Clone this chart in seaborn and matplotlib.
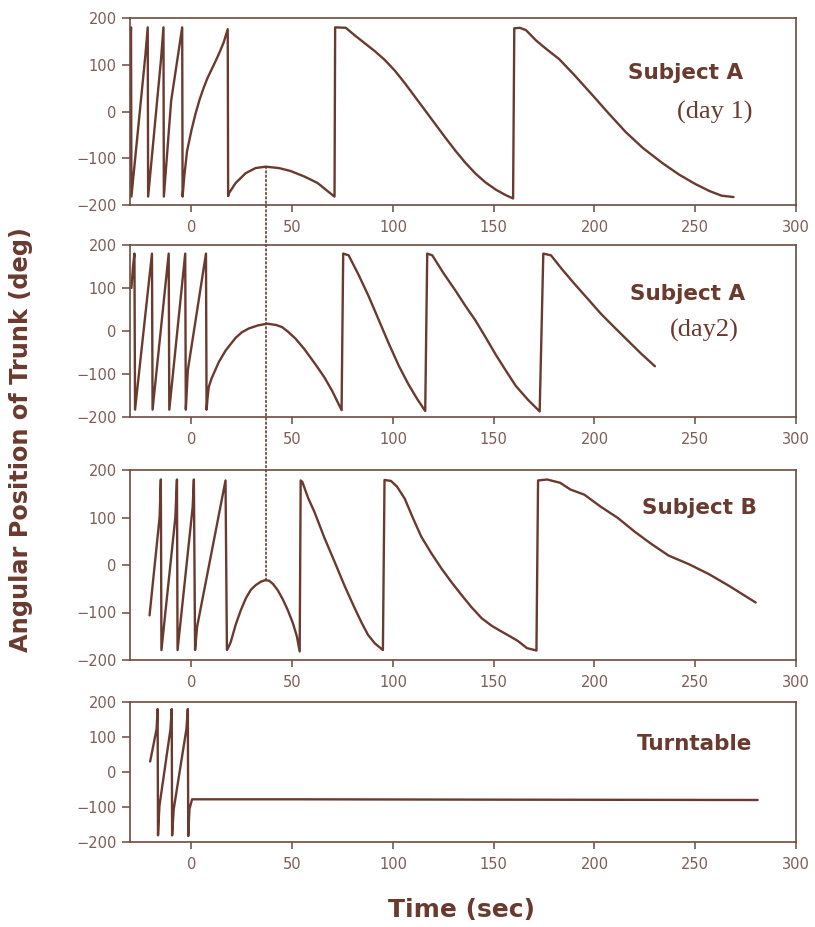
import numpy as np
import pandas as pd
import matplotlib
matplotlib.use("Agg")
import matplotlib.pyplot as plt
import seaborn as sns
from matplotlib.patches import ConnectionPatch

# ---------------- data ----------------
a1_time = [-30.5, -30.0, -29.8, -22.9, -21.7, -21.5, -15.1, -13.9, -13.7, -10.1, -4.6, -4.4,
           -3.6, -2.2, 0.0, 2.0, 4.0, 6.0, 8.0, 10.0, 12.0, 14.0, 16.0, 18.0,
           18.2, 18.6, 21.9, 26.9, 31.8, 36.8, 43.4, 49.0, 56.0, 62.6, 69.2, 71.0,
           71.3, 76.6, 81.0, 86.0, 91.0, 96.0, 101.0, 106.0, 111.0, 116.0, 121.0, 126.0,
           131.0, 136.0, 141.0, 146.0, 151.0, 156.0, 159.6,
           160.2, 163.0, 166.0, 171.0, 176.0, 182.5, 190.0, 199.0, 207.0, 215.5, 224.0,
           233.6, 242.0, 250.0, 257.0, 263.0, 269.0]
a1_angle = [125, 180, -182, 119, 180, -182, 112, 180, -182, 22, 180, -182,
            -140, -85, -40, -5, 25, 50, 72, 90, 108, 127, 148, 176,
            -181, -175, -153, -132, -121, -118, -121, -127, -139, -153, -176, -182,
            180, 179, 163, 146, 129, 110, 87, 60, 31, 2, -27, -56,
            -84, -110, -133, -152, -167, -179, -186,
            178, 179, 174, 152, 134, 112, 78, 35, -4, -44, -78,
            -110, -135, -155, -170, -180, -183]

a2_time = [-29.8, -29.0, -28.3, -28.0, -19.6, -19.3, -11.3, -11.0, -3.1, -2.8, -1.8, 7.2,
           7.5, 8.0, 8.6, 10.0, 13.6, 17.0, 21.9, 25.0, 28.5, 33.0, 37.6, 42.0, 45.0,
           48.0, 51.7, 56.0, 61.6, 66.0, 69.9, 72.5, 74.5,
           75.3, 78.0, 83.0, 88.0, 93.0, 97.8, 103.0, 107.8, 112.0, 116.0,
           117.0, 119.5, 125.0, 131.0, 136.0, 141.0, 146.0, 151.0, 156.0, 161.0, 167.0, 172.8,
           174.6, 178.4, 184.0, 190.0, 197.0, 203.4, 210.0, 216.7, 223.0, 230.0]
a2_angle = [100, 150, 180, -183, 180, -183, 180, -183, 180, -183, -91, 180,
            -183, -155, -130, -110, -72, -45, -16, -3, 6, 13, 17, 14, 9,
            -2, -18, -42, -78, -108, -140, -165, -184,
            180, 176, 130, 80, 25, -28, -82, -125, -158, -186,
            180, 176, 135, 94, 58, 24, -15, -55, -92, -128, -160, -187,
            180, 176, 143, 110, 73, 39, 8, -23, -52, -82]

b_time = [-20.8, -15.8, -15.2, -14.9, -8.0, -7.2, -6.9, 0.6, 1.2, 1.8, 2.8, 16.9,
          17.6, 18.5, 19.5, 22.0, 24.5, 27.0, 29.5, 32.0, 34.5, 36.5, 38.5, 40.5, 42.8,
          45.3, 47.8, 50.3, 52.3, 53.7,
          54.2, 55.0, 58.0, 61.0, 66.0, 71.0, 76.0, 81.0, 84.5, 87.6, 91.0, 95.0,
          95.8, 99.0, 102.0, 105.8, 110.0, 114.0, 119.0, 124.0, 129.0, 134.0, 139.0, 144.0,
          149.0, 153.0, 158.0, 162.0, 166.5, 171.2,
          172.0, 176.5, 183.0, 188.0, 195.0, 203.0, 211.6, 220.0, 228.0, 236.7, 246.7,
          256.7, 266.8, 280.0]
b_angle = [-106, 101, 180, -179, 100, 180, -179, 122, 180, -179, -130, 178,
           -179, -172, -162, -125, -95, -70, -52, -42, -35, -32, -33, -40, -53,
           -72, -95, -122, -150, -182,
           178, 175, 140, 112, 57, 7, -44, -91, -122, -147, -165, -179,
           179, 177, 165, 140, 98, 60, 25, -7, -36, -63, -89, -112,
           -128, -138, -150, -160, -175, -180,
           178, 180, 173, 159, 148, 123, 99, 70, 45, 20, 2,
           -19, -44, -79]

tt_time = [-20.5, -17.3, -16.8, -16.6, -15.9, -10.4, -9.8, -9.6, -8.8, -2.5, -1.8, -1.6,
           -1.0, 0.3, 50.0, 150.0, 281.0]
tt_angle = [30, 123, 180, -181, -97, 123, 180, -181, -106, 123, 180, -183,
            -106, -78, -78, -79, -80]

panel_names = ["Subject A", "Subject A", "Subject B", "Turntable"]
panel_notes = ["(day 1)", "(day2)", "", ""]
x_ticks = [0, 50, 100, 150, 200, 250, 300]
y_ticks = [-200, -100, 0, 100, 200]
peak_time = 37.0
x_label = "Time (sec)"
y_label = "Angular Position of Trunk (deg)"

# ---------------- style ----------------
sns.set_theme(style="ticks")
plt.rcParams["font.family"] = ["DejaVu Sans"]
LINE = "#6a3a2f"
SPINE = "#6e4a40"
TXT = "#7d5d55"

W, H = 815, 927
fig = plt.figure(figsize=(W / 100, H / 100), dpi=100)
fig.patch.set_facecolor("white")

# axes boxes in pixels: (top, bottom)
boxes = [(18, 205), (245, 417), (470, 660), (702, 842)]
left_px, right_px = 130, 796

series = [(a1_time, a1_angle), (a2_time, a2_angle), (b_time, b_angle), (tt_time, tt_angle)]
label_pos = [(0.92, 0.675, 0.934, 0.46), (0.923, 0.68, 0.914, 0.47),
             (0.941, 0.768, 0, 0), (0.934, 0.657, 0, 0)]

axes = []
for i, ((top, bot), (t, a)) in enumerate(zip(boxes, series)):
    ax = fig.add_axes([left_px / W, 1 - bot / H, (right_px - left_px) / W, (bot - top) / H])
    df = pd.DataFrame({"time": t, "angle": a})
    sns.lineplot(data=df, x="time", y="angle", ax=ax, sort=False, estimator=None,
                 color=LINE, linewidth=1.7)
    ax.set_xlim(-30.5, 300)
    ax.set_ylim(-200, 200)
    ax.set_xticks(x_ticks)
    ax.set_yticks(y_ticks)
    ax.set_xlabel("")
    ax.set_ylabel("")
    for s in ax.spines.values():
        s.set_color(SPINE)
        s.set_linewidth(1.2)
        s.set_visible(True)
    ax.tick_params(axis="both", direction="out", colors=SPINE, labelcolor=TXT,
                   labelsize=10.5, width=1.1)
    ax.tick_params(axis="x", length=5, pad=6)
    ax.tick_params(axis="y", length=5.5, pad=4)
    ax.tick_params(top=False, right=False)
    lx, ly, nx, ny = label_pos[i]
    ax.text(lx, ly, panel_names[i], transform=ax.transAxes, ha="right", va="baseline",
            fontsize=15.5, fontweight="bold", color=LINE, family="DejaVu Sans")
    if panel_notes[i]:
        ax.text(nx, ny, panel_notes[i], transform=ax.transAxes, ha="right", va="baseline",
                fontsize=19, color=LINE, family="Liberation Serif")
    axes.append(ax)

# dotted vertical marker from the day-1 hump down to subject B hump
y_top = float(np.interp(peak_time, a1_time[25:36], a1_angle[25:36]))
y_bot = float(np.interp(peak_time, b_time[12:30], b_angle[12:30]))
con = ConnectionPatch(xyA=(peak_time, y_top), coordsA=axes[0].transData,
                      xyB=(peak_time, y_bot), coordsB=axes[2].transData,
                      linestyle=(0, (1, 1.6)), color=LINE, linewidth=1.2)
fig.add_artist(con)

fig.text(0.026, 1 - 439 / H, y_label, rotation=90, ha="center", va="center",
         fontsize=17.3, fontweight="bold", color=LINE, family="DejaVu Sans")
fig.text(462 / W, 1 - 910 / H, x_label, ha="center", va="center",
         fontsize=18, fontweight="bold", color=LINE, family="DejaVu Sans")

fig.savefig("out.png", dpi=100, facecolor="white")
